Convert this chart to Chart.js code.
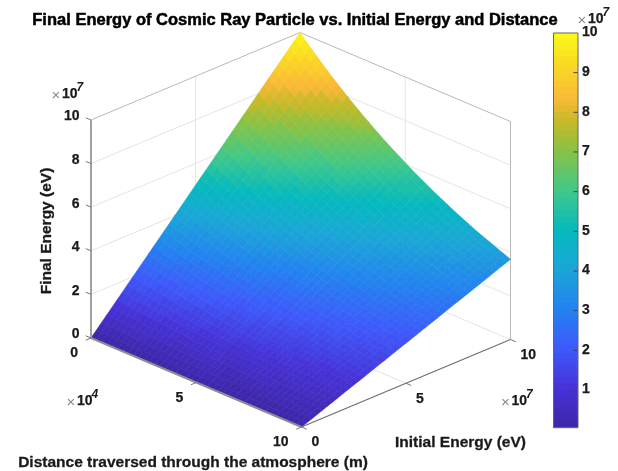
<!DOCTYPE html>
<html>
<head>
<meta charset="utf-8">
<style>html,body{margin:0;padding:0;background:#fff}canvas{display:block;filter:blur(0.45px)}</style>
<script src="https://cdn.jsdelivr.net/npm/chart.js@4"></script>
</head>
<body>
<canvas id="c" width="618" height="471"></canvas>
<script>
// Axis coordinates: initial energy (x 10^7 eV), distance (x 10^4 m)
const initialEnergy = [0,0.5,1,1.5,2,2.5,3,3.5,4,4.5,5,5.5,6,6.5,7,7.5,8,8.5,9,9.5,10];
const distance = [0,0.5,1,1.5,2,2.5,3,3.5,4,4.5,5,5.5,6,6.5,7,7.5,8,8.5,9,9.5,10];
// Final energy (x 10^7 eV): one row per distance, one column per initial energy
const finalEnergy = [
[0,.5,1,1.5,2,2.5,3,3.5,4,4.5,5,5.5,6,6.5,7,7.5,8,8.5,9,9.5,10],
[0,.48,.95,1.43,1.9,2.38,2.85,3.33,3.8,4.28,4.76,5.23,5.71,6.18,6.66,7.13,7.61,8.08,8.56,9.03,9.51],
[0,.45,.91,1.36,1.81,2.26,2.72,3.17,3.62,4.07,4.53,4.98,5.43,5.88,6.34,6.79,7.24,7.69,8.15,8.6,9.05],
[0,.43,.86,1.29,1.72,2.15,2.58,3.01,3.44,3.87,4.31,4.74,5.17,5.6,6.03,6.46,6.89,7.32,7.75,8.18,8.61],
[0,.41,.82,1.23,1.64,2.05,2.46,2.87,3.28,3.69,4.1,4.5,4.91,5.32,5.73,6.14,6.55,6.96,7.37,7.78,8.19],
[0,.39,.78,1.17,1.56,1.95,2.34,2.73,3.12,3.51,3.9,4.28,4.67,5.06,5.45,5.84,6.23,6.62,7.01,7.4,7.79],
[0,.37,.74,1.11,1.48,1.85,2.22,2.59,2.96,3.33,3.71,4.08,4.45,4.82,5.19,5.56,5.93,6.3,6.67,7.04,7.41],
[0,.35,.71,1.06,1.41,1.76,2.12,2.47,2.82,3.17,3.53,3.88,4.23,4.58,4.94,5.29,5.64,5.99,6.35,6.7,7.05],
[0,.34,.67,1.01,1.34,1.68,2.01,2.35,2.68,3.02,3.35,3.69,4.02,4.36,4.69,5.03,5.36,5.7,6.03,6.37,6.7],
[0,.32,.64,.96,1.28,1.6,1.91,2.23,2.55,2.87,3.19,3.51,3.83,4.15,4.47,4.79,5.1,5.42,5.74,6.06,6.38],
[0,.3,.61,.91,1.21,1.52,1.82,2.12,2.43,2.73,3.04,3.34,3.64,3.95,4.25,4.55,4.86,5.16,5.46,5.77,6.07],
[0,.29,.58,.87,1.15,1.44,1.73,2.02,2.31,2.6,2.89,3.17,3.46,3.75,4.04,4.33,4.62,4.9,5.19,5.48,5.77],
[0,.27,.55,.82,1.1,1.37,1.65,1.92,2.2,2.47,2.75,3.02,3.29,3.57,3.84,4.12,4.39,4.67,4.94,5.22,5.49],
[0,.26,.52,.78,1.04,1.31,1.57,1.83,2.09,2.35,2.61,2.87,3.13,3.39,3.65,3.92,4.18,4.44,4.7,4.96,5.22],
[0,.25,.5,.75,.99,1.24,1.49,1.74,1.99,2.24,2.49,2.73,2.98,3.23,3.48,3.73,3.98,4.22,4.47,4.72,4.97],
[0,.24,.47,.71,.94,1.18,1.42,1.65,1.89,2.12,2.36,2.6,2.83,3.07,3.3,3.54,3.78,4.01,4.25,4.48,4.72],
[0,.22,.45,.67,.9,1.12,1.35,1.57,1.8,2.02,2.25,2.47,2.69,2.92,3.14,3.37,3.59,3.82,4.04,4.27,4.49],
[0,.21,.43,.64,.85,1.07,1.28,1.49,1.71,1.92,2.14,2.35,2.56,2.78,2.99,3.2,3.42,3.63,3.84,4.06,4.27],
[0,.2,.41,.61,.81,1.02,1.22,1.42,1.63,1.83,2.04,2.24,2.44,2.65,2.85,3.05,3.26,3.46,3.66,3.87,4.07],
[0,.19,.39,.58,.77,.97,1.16,1.35,1.55,1.74,1.94,2.13,2.32,2.52,2.71,2.9,3.1,3.29,3.48,3.68,3.87],
[0,.18,.37,.55,.74,.92,1.1,1.29,1.47,1.66,1.84,2.02,2.21,2.39,2.58,2.76,2.94,3.13,3.31,3.5,3.68]
];
const zTicks = [0,2,4,6,8,10];
const distanceTicks = [0,5,10];
const energyTicks = [0,5,10];
const colorbarTicks = [1,2,3,4,5,6,7,8,9,10];
const titleText = "Final Energy of Cosmic Ray Particle vs. Initial Energy and Distance";
const zLabel = "Final Energy (eV)";
const energyLabel = "Initial Energy (eV)";
const distanceLabel = "Distance traversed through the atmosphere (m)";

// ---- view: how the 3-D box sits on the page ----
const view = {ox:91, oy:338, ex:20.9, ey:-8.75, dx:21.05, dy:8.9, zy:-21.8};
function project(e, d, z){
  return {x: view.ox + view.ex*e + view.dx*d, y: view.oy + view.ey*e + view.dy*d + view.zy*z};
}
// ---- colour map: stops, 64 levels ----
const stopValues = [0.05,1,2,3,4,5,6,7,7.7,8.3,9,10];
const stopColors = [[62,38,168],[70,50,215],[62,88,250],[35,130,240],[27,165,215],[5,185,190],
                    [65,200,135],[135,195,70],[195,185,40],[250,185,55],[250,210,40],[249,251,21]];
const cMin = 0.05, cMax = 10, levels = 64;
function levelColor(i){
  const v = cMin+(cMax-cMin)*(i+.5)/levels;
  let a = 0; while (a < stopValues.length-2 && v > stopValues[a+1]) a++;
  const f = (v-stopValues[a])/(stopValues[a+1]-stopValues[a]);
  const c = [0,1,2].map(k=>Math.round(stopColors[a][k]+(stopColors[a+1][k]-stopColors[a][k])*f));
  return `rgb(${c[0]},${c[1]},${c[2]})`;
}
function valueColor(v){
  const i = Math.max(0, Math.min(levels-1, Math.floor((v-cMin)/(cMax-cMin)*levels)));
  return levelColor(i);
}
// ---- datasets ----
const datasets = [];
function line(points, color, width){
  datasets.push({data:points, showLine:true, borderColor:color, borderWidth:width, pointRadius:0, fill:false, tension:0, borderCapStyle:'butt'});
}
function poly(points, color, extra){
  datasets.push(Object.assign({data:points.concat([points[0]]), showLine:true, borderColor:color, borderWidth:.6,
    backgroundColor:color, pointRadius:0, fill:'shape', tension:0}, extra||{}));
}
const E = 10, D = 10, Z = 10;
const gridCol = '#e4e4e4', edgeCol = '#b8b8b8';
// back walls and floor grid
for (const z of zTicks.slice(1,-1)){
  line([project(0,0,z),project(E,0,z),project(E,D,z)], gridCol, 1);
}
line([project(5,0,0),project(5,0,Z)], gridCol, 1);
line([project(E,5,0),project(E,5,Z)], gridCol, 1);
line([project(5,0,0),project(5,D,0)], gridCol, 1);
line([project(0,5,0),project(E,5,0)], gridCol, 1);
line([project(0,0,0),project(E,0,0),project(E,D,0)], gridCol, 1);
line([project(E,0,0),project(E,0,Z)], gridCol, 1);
line([project(0,0,Z),project(E,0,Z),project(E,D,Z),project(E,D,0)], edgeCol, 1);
// surface, back to front; each data cell is shaded in sub-facets between its four corners
const facets = 2;
for (let k=0;k<distance.length-1;k++){
  for (let a=0;a<facets;a++){
    for (let j=initialEnergy.length-2;j>=0;j--){
      for (let b=facets-1;b>=0;b--){
        const corner = (u,v)=>{
          const su=(b+u)/facets, sv=(a+v)/facets;
          const z = finalEnergy[k][j]*(1-su)*(1-sv)+finalEnergy[k][j+1]*su*(1-sv)
                  + finalEnergy[k+1][j]*(1-su)*sv+finalEnergy[k+1][j+1]*su*sv;
          const e = initialEnergy[j]+(initialEnergy[j+1]-initialEnergy[j])*su;
          const d = distance[k]+(distance[k+1]-distance[k])*sv;
          return {p:project(e,d,z), z};
        };
        const c = [corner(0,0),corner(1,0),corner(1,1),corner(0,1)];
        poly(c.map(q=>q.p), valueColor((c[0].z+c[1].z+c[2].z+c[3].z)/4));
      }
    }
  }
}
// front axes
const tickFrac = 0.25;
line([project(0,0,0),project(0,0,Z)], '#a0a0a0', 2);
line([project(0,0,0),project(0,D,0)], '#8e8e8e', 2);
line([project(0,D,0),project(E,D,0)], '#6e6e6e', 1.2);
for (const z of zTicks){ line([project(0,0,z),project(0,-tickFrac,z)], '#777', 1); }
for (const d of distanceTicks){ line([project(0,d,0),project(-tickFrac,d,0)], '#777', 1); }
for (const e of energyTicks){ line([project(e,D,0),project(e,D+tickFrac,0)], '#777', 1); }
// colour bar (own value scale)
const cbX0 = 553.5, cbX1 = 578;
for (let i=levels-1;i>=0;i--){
  const lo = cMin+(cMax-cMin)*i/levels, hi = cMin+(cMax-cMin)*(i+1)/levels;
  poly([{x:cbX0,y:lo},{x:cbX1,y:lo},{x:cbX1,y:hi+(i<levels-1?.03:0)},{x:cbX0,y:hi+(i<levels-1?.03:0)}], levelColor(i), {yAxisID:'cb', borderWidth:0});
}
for (const t of colorbarTicks.slice(0,-1)){
  datasets.push({data:[{x:cbX1-4.5,y:t},{x:cbX1,y:t}], yAxisID:'cb', showLine:true, borderColor:'#444', borderWidth:1, pointRadius:0, fill:false});
}
datasets.push({data:[{x:cbX0,y:cMin},{x:cbX1,y:cMin},{x:cbX1,y:cMax},{x:cbX0,y:cMax},{x:cbX0,y:cMin}], yAxisID:'cb', showLine:true,
  borderColor:'#666', borderWidth:1, pointRadius:0, fill:false});
// first-listed dataset must be painted first
datasets.forEach((d,i)=>{ d.order = datasets.length - i; });

// ---- text ----
const ink = '#1a1a1a';
function txt(ctx, s, x, y, font, align, color, rot, stroke){
  ctx.save();
  ctx.font = font; ctx.fillStyle = color||ink; ctx.textAlign = align||'left'; ctx.textBaseline = 'middle';
  ctx.translate(x,y); if (rot) ctx.rotate(rot);
  ctx.fillText(s,0,0);
  if (stroke){ ctx.strokeStyle = color||ink; ctx.lineWidth = stroke; ctx.lineJoin='round'; ctx.strokeText(s,0,0); }
  ctx.restore();
}
const F = '"Liberation Sans", Arial, sans-serif';
const tickFont = 'bold 14px '+F;
function exponent(ctx, x, y, p){
  txt(ctx, '\u00d7', x, y+1.5, '15px '+F, 'left', '#888');
  txt(ctx, '10', x+10.5, y, tickFont, 'left', ink, 0, .25);
  txt(ctx, p, x+25, y-6.5, 'italic bold 12px '+F, 'left');
}
const textPlugin = {
  id:'labels',
  afterDraw(chart){
    const ctx = chart.ctx, cb = chart.scales.cb;
    txt(ctx, titleText, 295, 20, 'bold 16.5px '+F, 'center', '#000', 0, .5);
    for (const z of zTicks){ const p = project(0,0,z); txt(ctx, String(z), p.x-11.5, p.y-3.5, tickFont, 'right', ink, 0, .25); }
    for (const d of distanceTicks){ const p = project(0,d,0); txt(ctx, String(d), p.x-13, p.y+15.5, tickFont, 'right', ink, 0, .25); }
    for (const e of energyTicks){ const p = project(e,D,0); txt(ctx, String(e), p.x+10, p.y+15.5, tickFont, 'left', ink, 0, .25); }
    for (const t of colorbarTicks){ txt(ctx, String(t), 582, cb.getPixelForValue(t)-0.5, tickFont, 'left', ink, 0, .25); }
    exponent(ctx, 51.5, 94.5, '7');
    exponent(ctx, 66.5, 401.5, '4');
    exponent(ctx, 501, 401.5, '7');
    exponent(ctx, 577.5, 19, '7');
    txt(ctx, zLabel, 46.5, 231, 'bold 15.5px '+F, 'center', ink, -Math.PI/2, .3);
    txt(ctx, energyLabel, 460.5, 443, 'bold 15.5px '+F, 'center', ink, 0, .3);
    txt(ctx, distanceLabel, 193, 463, 'bold 15.5px '+F, 'center', ink, 0, .3);
  }
};
new Chart(document.getElementById('c'), {
  type:'scatter',
  data:{datasets},
  options:{
    responsive:false, animation:false, devicePixelRatio:1,
    layout:{padding:0},
    plugins:{legend:{display:false}, tooltip:{enabled:false}, title:{display:false}},
    scales:{
      x:{type:'linear', min:0, max:618, display:false},
      y:{type:'linear', min:0, max:471, reverse:true, display:false},
      cb:{type:'linear', min:1-81/39.67, max:1+390/39.67, display:false}
    }
  },
  plugins:[textPlugin]
});
</script>
</body>
</html>
